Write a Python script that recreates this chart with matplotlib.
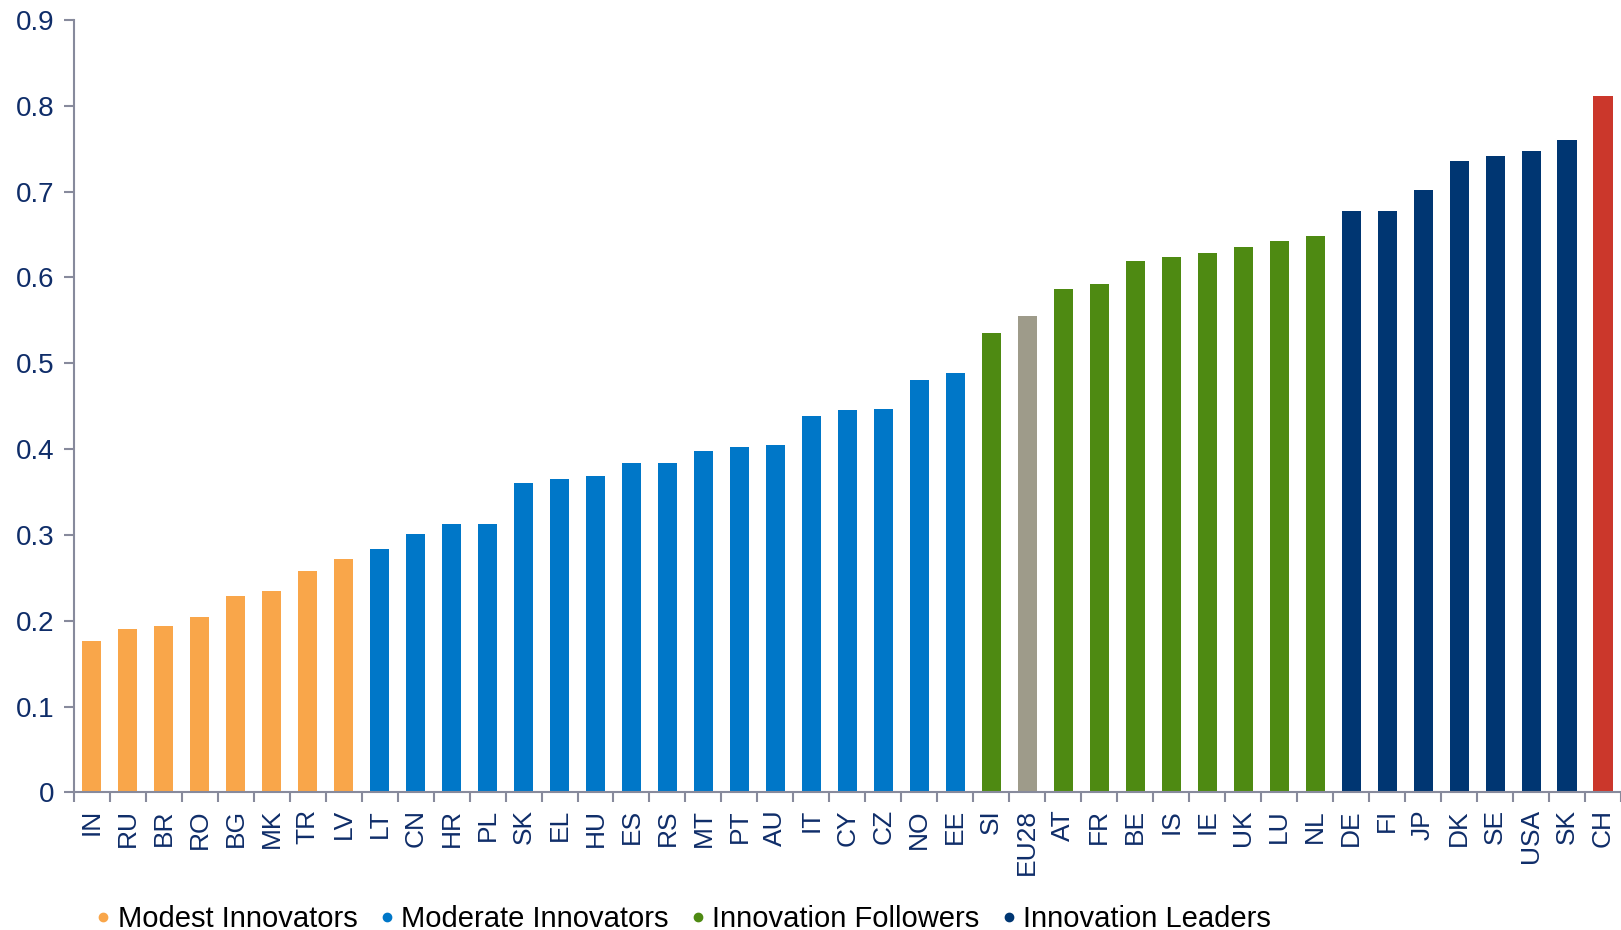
import matplotlib.pyplot as plt
from matplotlib.lines import Line2D
import numpy as np

plt.rcParams['font.family'] = ['Liberation Sans', 'DejaVu Sans']

countries = ['IN', 'RU', 'BR', 'RO', 'BG', 'MK', 'TR', 'LV', 'LT', 'CN', 'HR', 'PL',
             'SK', 'EL', 'HU', 'ES', 'RS', 'MT', 'PT', 'AU', 'IT', 'CY', 'CZ', 'NO',
             'EE', 'SI', 'EU28', 'AT', 'FR', 'BE', 'IS', 'IE', 'UK', 'LU', 'NL',
             'DE', 'FI', 'JP', 'DK', 'SE', 'USA', 'SK', 'CH']
values = [0.176, 0.190, 0.194, 0.204, 0.229, 0.235, 0.258, 0.272, 0.283, 0.301, 0.313, 0.313,
          0.360, 0.365, 0.369, 0.384, 0.384, 0.398, 0.402, 0.405, 0.439, 0.445, 0.447, 0.480,
          0.489, 0.535, 0.555, 0.586, 0.592, 0.619, 0.624, 0.629, 0.636, 0.643, 0.648,
          0.677, 0.677, 0.702, 0.736, 0.741, 0.747, 0.760, 0.811]
groups = ['modest'] * 8 + ['moderate'] * 17 + ['follower'] + ['eu'] + ['follower'] * 8 \
         + ['leader'] * 7 + ['ch']

colors = {'modest': '#F9A64A', 'moderate': '#0077C8', 'follower': '#4E8A12',
          'eu': '#9E9B8A', 'leader': '#003672', 'ch': '#CB372B'}
legend_labels = [('modest', 'Modest Innovators'), ('moderate', 'Moderate Innovators'),
                 ('follower', 'Innovation Followers'), ('leader', 'Innovation Leaders')]

label_color = '#0F2D69'
axis_color = '#878A9C'

fig = plt.figure(figsize=(16.21, 9.30), dpi=100)
ax = fig.add_axes([0.0455, 0.148, 0.9545, 0.8305])

x = np.arange(len(countries))
ax.bar(x, values, width=0.53, color=[colors[g] for g in groups])

ax.set_xlim(-0.5, len(countries) - 0.5)
ax.set_ylim(0, 0.9)
ax.set_yticks(np.arange(0, 0.91, 0.1))
ax.set_yticklabels(['0'] + ['%.1f' % v for v in np.arange(0.1, 0.91, 0.1)])

ax.set_xticks(x)
ax.set_xticklabels(countries, rotation=90)
ax.set_xticks(np.arange(-0.5, len(countries), 1), minor=True)
ax.tick_params(axis='x', which='major', length=0, pad=12, labelsize=19, labelcolor=label_color)
ax.tick_params(axis='x', which='minor', length=7, width=1.5, color=axis_color, direction='out')
ax.tick_params(axis='y', length=7, width=1.5, color=axis_color, labelsize=20,
               labelcolor=label_color, pad=7)

for s in ['top', 'right']:
    ax.spines[s].set_visible(False)
for s in ['left', 'bottom']:
    ax.spines[s].set_color(axis_color)
    ax.spines[s].set_linewidth(1.5)

handles = [Line2D([], [], marker='o', linestyle='', markersize=6,
                  color=colors[k], label=lab) for k, lab in legend_labels]
fig.legend(handles=handles, loc='center left', bbox_to_anchor=(0.0546, 0.012), ncol=4,
           frameon=False, fontsize=21, handletextpad=0.0, columnspacing=0.5,
           handlelength=1.0, borderpad=0, borderaxespad=0)

fig.savefig('out.png', dpi=100)
